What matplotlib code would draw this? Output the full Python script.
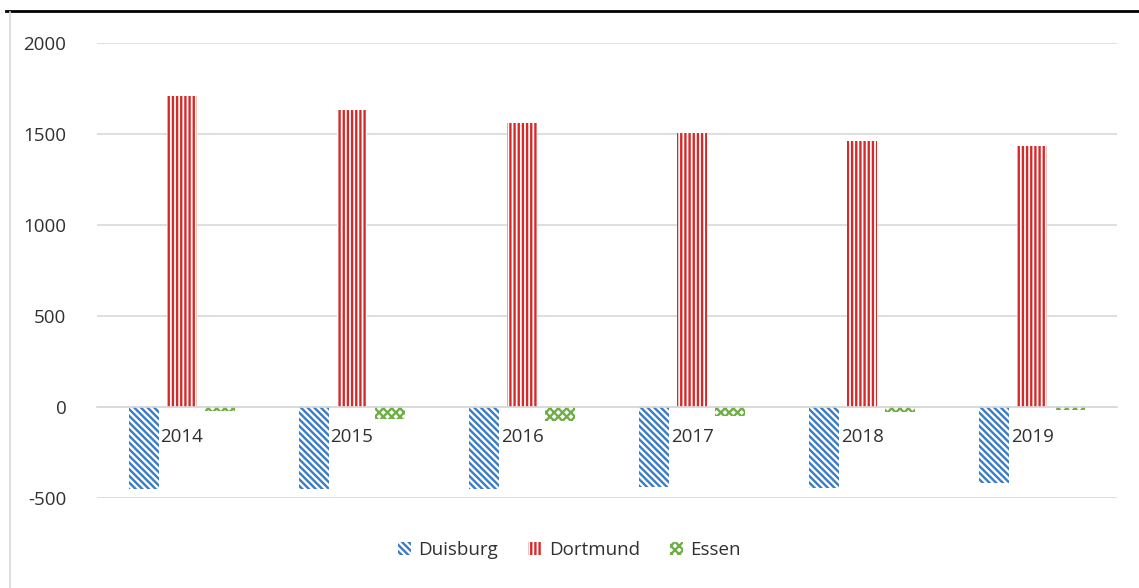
import matplotlib
matplotlib.use("Agg")
import matplotlib.pyplot as plt
from matplotlib.lines import Line2D
import numpy as np

years = ["2014", "2015", "2016", "2017", "2018", "2019"]
duisburg = [-450, -450, -452, -440, -445, -418]
dortmund = [1710, 1630, 1560, 1505, 1462, 1435]
essen = [-22, -65, -75, -50, -30, -15]

series = [
    ("Duisburg", duisburg, "#3a7cc4", "\\" * 5),
    ("Dortmund", dortmund, "#d42a2a", "||||"),
    ("Essen", essen, "#6fae45", "x" * 4),
]

plt.rcParams["font.family"] = ["Open Sans", "DejaVu Sans"]
plt.rcParams["hatch.linewidth"] = 1.7
plt.rcParams["axes.unicode_minus"] = False

fig = plt.figure(figsize=(11.39, 5.88), dpi=100)
ax = fig.add_axes([0.085, 0.153, 0.896, 0.774])

x = np.arange(len(years))
step = 0.224
width = 0.175
for i, (name, vals, color, hatch) in enumerate(series):
    ax.bar(x + (i - 1) * step, vals, width, facecolor="white",
           edgecolor=color, hatch=hatch, linewidth=0, label=name, zorder=2)

ax.set_xlim(-0.5, len(years) - 0.5)
ax.set_ylim(-500, 2000)
ax.set_yticks([-500, 0, 500, 1000, 1500, 2000])
ax.yaxis.grid(True, color="#d9d9d9", linewidth=1.2, zorder=0)
ax.set_axisbelow(True)
for s in ["left", "right", "top"]:
    ax.spines[s].set_visible(False)
ax.spines["bottom"].set_position(("data", 0))
ax.spines["bottom"].set_color("#d9d9d9")
ax.spines["bottom"].set_linewidth(1.2)
ax.set_xticks(x)
ax.set_xticklabels(years)
ax.tick_params(axis="x", length=0, pad=15, labelsize=13.5, colors="#303030")
ax.tick_params(axis="y", length=0, pad=22, labelsize=13.5, colors="#303030")

fig.legend(loc="lower center", bbox_to_anchor=(0.5, 0.02), ncol=3,
           frameon=False, fontsize=13.5, handlelength=0.7, handleheight=0.7,
           handletextpad=0.4, columnspacing=1.6, labelcolor="#303030")

fig.add_artist(Line2D([0.005, 1.0], [0.982, 0.982], color="black", lw=2))
fig.add_artist(Line2D([0.009, 0.009], [0.0, 0.98], color="#d9d9d9", lw=1.2))

fig.savefig("out.png", dpi=100, facecolor="white")
